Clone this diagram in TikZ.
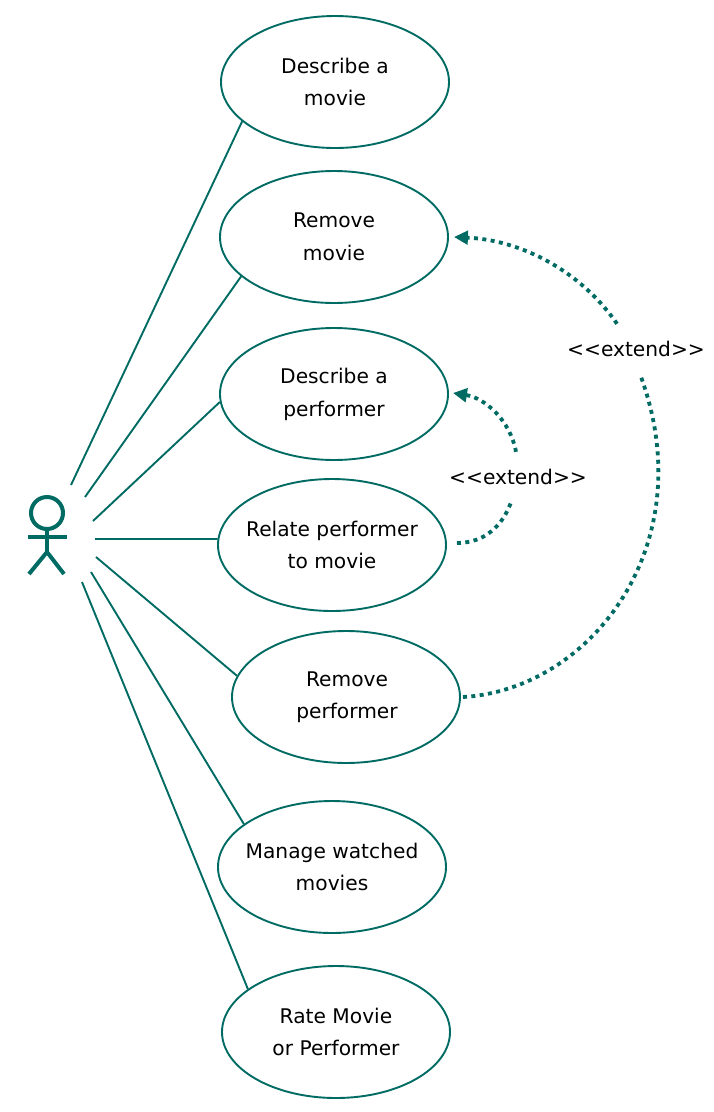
\documentclass[tikz,border=0pt]{standalone}
\usepackage{fontspec}
\setmainfont{DejaVu Sans}
\usetikzlibrary{shapes.geometric,arrows.meta}
\definecolor{teal1}{HTML}{006B63}
\tikzset{
  usecase/.style={draw=teal1,line width=1.9pt,ellipse,inner xsep=-30pt,inner ysep=0pt,minimum width=228pt,minimum height=132pt,align=center,font=\fontsize{20.2}{32.5}\selectfont},
  assoc/.style={draw=teal1,line width=1.9pt},
  ext/.style={draw=teal1,line width=3.8pt,dash pattern=on 4pt off 4.4pt},
  exttip/.style={-{Triangle[length=14pt,width=13.5pt]}},
  extlabel/.style={inner sep=0pt,minimum width=138pt,minimum height=50pt,font=\fontsize{20.2}{24}\selectfont},
  actorline/.style={draw=teal1,line width=4pt}
}
\begin{document}
\begin{tikzpicture}[x=1pt,y=-1pt]
\useasboundingbox (0,0) rectangle (713,1112);
\node[usecase] (e1) at (335,82) {Describe a\\movie};
\node[usecase] (e2) at (334,237) {Remove\\movie};
\node[usecase] (e3) at (334,394) {\raisebox{-1pt}{Describe a}\\\raisebox{-1.5pt}{performer}};
\node[usecase] (e4) at (332,545) {Relate performer\\to movie};
\node[usecase] (e5) at (346,697) {\raisebox{-3.5pt}{\hspace{2pt}Remove}\\\raisebox{-3.5pt}{\hspace{2pt}performer}};
\node[usecase] (e6) at (332,867) {Manage watched\\movies};
\node[usecase] (e7) at (336,1032) {Rate Movie\\or Performer};
\node[extlabel] (l1) at (636,349) {<{}<extend>{}>};
\node[extlabel] (l2) at (518,477) {<{}<extend>{}>};
\node[draw=teal1,line width=4pt,circle,inner sep=0pt,minimum size=32pt] (head) at (47,513) {};
\coordinate (hip) at (47,552);
\coordinate (armL) at (28,537);
\coordinate (armR) at (67,537);
\coordinate (footL) at (29,574);
\coordinate (footR) at (64,574);
\draw[actorline] (head.south) -- (hip);
\draw[actorline] (armL) -- (armR);
\draw[actorline] (footL) -- (hip) -- (footR);
\coordinate (a1) at (71,485);
\coordinate (a2) at (85,497);
\coordinate (a3) at (93,521);
\coordinate (a4) at (95,539);
\coordinate (a5) at (96,557);
\coordinate (a6) at (91,572);
\coordinate (a7) at (82,582);
\draw[assoc] (a1) -- (e1.203.5);
\draw[assoc] (a2) -- (e2.203.2);
\draw[assoc] (a3) -- (e3.184);
\draw[assoc] (a4) -- (e4.177);
\draw[assoc] (a5) -- (e5.169.6);
\draw[assoc] (a6) -- (e6.154.5);
\draw[assoc] (a7) -- (e7.154.7);
\draw[ext] ([xshift=2pt]e5.east) .. controls (590,690) and (704,545) .. ([xshift=4pt]l1.south);
\draw[ext,exttip] ([xshift=-19pt]l1.north) .. controls (580,270) and (520,240) .. ([xshift=5pt]e2.east);
\draw[ext,exttip] ([xshift=-2pt]l2.north) .. controls (510,420) and (485,398) .. ([xshift=4pt,yshift=1pt]e3.east);
\draw[ext] ([xshift=10pt,yshift=2pt]e4.east) .. controls (485,543) and (503,525) .. ([xshift=-7pt]l2.south);
\end{tikzpicture}
\end{document}
